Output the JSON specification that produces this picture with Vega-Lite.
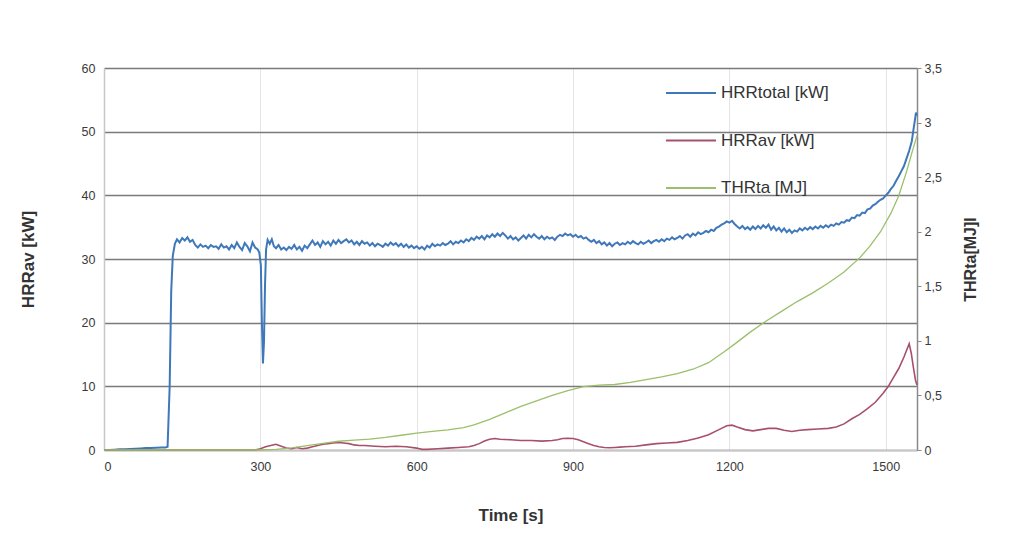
{
  "$schema": "https://vega.github.io/schema/vega-lite/v6.json",
  "width": 813,
  "height": 382,
  "autosize": {"type": "none"},
  "padding": {"left": 104, "top": 68, "right": 100, "bottom": 104},
  "background": "white",
  "config": {
    "font": "Liberation Sans",
    "view": {"stroke": null}
  },
  "datasets": {
    "tot": [
      {"t":0,"v":0.0},{"t":10,"v":0.0},{"t":20,"v":0.05},{"t":30,"v":0.1},{"t":40,"v":0.1},{"t":50,"v":0.15},{"t":60,"v":0.2},{"t":70,"v":0.25},{"t":80,"v":0.3},{"t":90,"v":0.3},{"t":100,"v":0.35},{"t":110,"v":0.4},{"t":118,"v":0.4},{"t":122,"v":0.5},{"t":126,"v":10},{"t":129,"v":25},{"t":132,"v":30.5},{"t":136,"v":32.4},{"t":140,"v":33.1},{"t":145,"v":32.6},{"t":150,"v":33.3},{"t":155,"v":32.9},{"t":160,"v":33.4},{"t":165,"v":32.7},{"t":170,"v":33.0},{"t":175,"v":32.2},{"t":180,"v":31.8},{"t":185,"v":32.3},{"t":190,"v":31.9},{"t":195,"v":32.1},{"t":200,"v":31.7},{"t":205,"v":32.2},{"t":210,"v":31.9},{"t":215,"v":32.0},{"t":220,"v":31.6},{"t":225,"v":32.3},{"t":230,"v":31.8},{"t":235,"v":32.0},{"t":240,"v":31.5},{"t":245,"v":32.2},{"t":250,"v":31.7},{"t":255,"v":32.6},{"t":260,"v":31.9},{"t":265,"v":31.4},{"t":270,"v":32.5},{"t":275,"v":32.0},{"t":280,"v":31.2},{"t":285,"v":32.6},{"t":290,"v":31.8},{"t":295,"v":31.5},{"t":298,"v":31.0},{"t":301,"v":29.0},{"t":303,"v":20},{"t":305,"v":13.6},{"t":307,"v":17},{"t":309,"v":26},{"t":311,"v":31.5},{"t":314,"v":33.0},{"t":318,"v":32.4},{"t":322,"v":33.1},{"t":326,"v":32.0},{"t":330,"v":31.7},{"t":335,"v":32.2},{"t":340,"v":31.5},{"t":345,"v":31.8},{"t":350,"v":31.4},{"t":355,"v":31.9},{"t":360,"v":31.6},{"t":365,"v":32.2},{"t":370,"v":31.5},{"t":375,"v":31.9},{"t":380,"v":31.3},{"t":385,"v":32.1},{"t":390,"v":31.7},{"t":395,"v":32.3},{"t":400,"v":32.9},{"t":405,"v":32.2},{"t":410,"v":32.6},{"t":415,"v":31.9},{"t":420,"v":32.8},{"t":425,"v":32.3},{"t":430,"v":32.7},{"t":435,"v":32.1},{"t":440,"v":32.9},{"t":445,"v":32.4},{"t":450,"v":33.0},{"t":455,"v":32.5},{"t":460,"v":32.8},{"t":465,"v":33.1},{"t":470,"v":32.6},{"t":475,"v":32.9},{"t":480,"v":32.3},{"t":485,"v":32.7},{"t":490,"v":32.2},{"t":495,"v":32.8},{"t":500,"v":32.4},{"t":505,"v":32.6},{"t":510,"v":32.1},{"t":515,"v":32.5},{"t":520,"v":32.0},{"t":525,"v":32.4},{"t":530,"v":32.2},{"t":535,"v":31.9},{"t":540,"v":32.4},{"t":545,"v":32.1},{"t":550,"v":32.6},{"t":555,"v":32.2},{"t":560,"v":32.5},{"t":565,"v":32.0},{"t":570,"v":32.4},{"t":575,"v":31.9},{"t":580,"v":32.3},{"t":585,"v":31.8},{"t":590,"v":32.1},{"t":595,"v":31.7},{"t":600,"v":32.0},{"t":605,"v":31.6},{"t":610,"v":31.9},{"t":615,"v":31.5},{"t":620,"v":32.1},{"t":625,"v":31.8},{"t":630,"v":32.4},{"t":635,"v":32.0},{"t":640,"v":32.3},{"t":645,"v":32.1},{"t":650,"v":32.5},{"t":655,"v":32.2},{"t":660,"v":32.4},{"t":665,"v":32.8},{"t":670,"v":32.3},{"t":675,"v":32.7},{"t":680,"v":32.5},{"t":685,"v":32.9},{"t":690,"v":32.6},{"t":695,"v":33.1},{"t":700,"v":32.8},{"t":705,"v":33.3},{"t":710,"v":33.0},{"t":715,"v":33.5},{"t":720,"v":33.2},{"t":725,"v":33.6},{"t":730,"v":33.1},{"t":735,"v":33.7},{"t":740,"v":33.4},{"t":745,"v":33.9},{"t":750,"v":33.5},{"t":755,"v":34.0},{"t":760,"v":33.6},{"t":765,"v":34.1},{"t":770,"v":33.7},{"t":775,"v":33.2},{"t":780,"v":33.6},{"t":785,"v":33.1},{"t":790,"v":33.4},{"t":795,"v":32.9},{"t":800,"v":33.3},{"t":805,"v":33.7},{"t":810,"v":33.2},{"t":815,"v":33.8},{"t":820,"v":33.4},{"t":825,"v":33.9},{"t":830,"v":33.5},{"t":835,"v":33.2},{"t":840,"v":33.6},{"t":845,"v":33.1},{"t":850,"v":33.5},{"t":855,"v":33.2},{"t":860,"v":33.4},{"t":865,"v":33.0},{"t":870,"v":33.5},{"t":875,"v":33.8},{"t":880,"v":33.6},{"t":885,"v":34.0},{"t":890,"v":33.7},{"t":895,"v":33.9},{"t":900,"v":33.5},{"t":905,"v":33.8},{"t":910,"v":33.4},{"t":915,"v":33.6},{"t":920,"v":33.2},{"t":925,"v":33.4},{"t":930,"v":33.0},{"t":935,"v":32.7},{"t":940,"v":33.0},{"t":945,"v":32.5},{"t":950,"v":32.8},{"t":955,"v":32.3},{"t":960,"v":32.6},{"t":965,"v":32.1},{"t":970,"v":32.5},{"t":975,"v":32.0},{"t":980,"v":32.4},{"t":985,"v":32.6},{"t":990,"v":32.2},{"t":995,"v":32.5},{"t":1000,"v":32.3},{"t":1005,"v":32.7},{"t":1010,"v":32.4},{"t":1015,"v":32.8},{"t":1020,"v":32.5},{"t":1025,"v":32.3},{"t":1030,"v":32.7},{"t":1035,"v":32.4},{"t":1040,"v":32.6},{"t":1045,"v":32.9},{"t":1050,"v":32.5},{"t":1055,"v":32.8},{"t":1060,"v":33.0},{"t":1065,"v":32.7},{"t":1070,"v":33.1},{"t":1075,"v":32.8},{"t":1080,"v":33.2},{"t":1085,"v":33.0},{"t":1090,"v":33.4},{"t":1095,"v":33.1},{"t":1100,"v":33.3},{"t":1105,"v":33.6},{"t":1110,"v":33.2},{"t":1115,"v":33.7},{"t":1120,"v":33.9},{"t":1125,"v":33.5},{"t":1130,"v":34.0},{"t":1135,"v":33.7},{"t":1140,"v":34.2},{"t":1145,"v":33.9},{"t":1150,"v":34.1},{"t":1155,"v":34.4},{"t":1160,"v":34.2},{"t":1165,"v":34.6},{"t":1170,"v":34.4},{"t":1175,"v":34.9},{"t":1180,"v":35.1},{"t":1185,"v":35.4},{"t":1190,"v":35.6},{"t":1195,"v":35.9},{"t":1200,"v":35.7},{"t":1205,"v":36.0},{"t":1210,"v":35.5},{"t":1215,"v":35.1},{"t":1220,"v":34.8},{"t":1225,"v":35.2},{"t":1230,"v":34.7},{"t":1235,"v":35.0},{"t":1240,"v":34.6},{"t":1245,"v":35.1},{"t":1250,"v":34.7},{"t":1255,"v":35.2},{"t":1260,"v":34.8},{"t":1265,"v":35.3},{"t":1270,"v":34.9},{"t":1275,"v":35.4},{"t":1280,"v":34.6},{"t":1285,"v":35.1},{"t":1290,"v":34.5},{"t":1295,"v":34.9},{"t":1300,"v":34.3},{"t":1305,"v":34.8},{"t":1310,"v":34.2},{"t":1315,"v":34.6},{"t":1320,"v":34.1},{"t":1325,"v":34.5},{"t":1330,"v":34.3},{"t":1335,"v":34.8},{"t":1340,"v":34.5},{"t":1345,"v":34.9},{"t":1350,"v":34.6},{"t":1355,"v":35.0},{"t":1360,"v":34.7},{"t":1365,"v":35.1},{"t":1370,"v":34.8},{"t":1375,"v":35.2},{"t":1380,"v":34.9},{"t":1385,"v":35.3},{"t":1390,"v":35.0},{"t":1395,"v":35.4},{"t":1400,"v":35.2},{"t":1405,"v":35.6},{"t":1410,"v":35.4},{"t":1415,"v":35.8},{"t":1420,"v":35.7},{"t":1425,"v":36.1},{"t":1430,"v":36.0},{"t":1435,"v":36.5},{"t":1440,"v":36.4},{"t":1445,"v":36.9},{"t":1450,"v":36.8},{"t":1455,"v":37.3},{"t":1460,"v":37.2},{"t":1465,"v":37.8},{"t":1470,"v":37.9},{"t":1475,"v":38.4},{"t":1480,"v":38.6},{"t":1485,"v":39.0},{"t":1490,"v":39.3},{"t":1495,"v":39.5},{"t":1500,"v":40.0},{"t":1505,"v":40.4},{"t":1510,"v":41.0},{"t":1515,"v":41.5},{"t":1520,"v":42.3},{"t":1525,"v":43.0},{"t":1530,"v":43.8},{"t":1535,"v":44.6},{"t":1540,"v":45.8},{"t":1545,"v":47.0},{"t":1550,"v":48.5},{"t":1553,"v":50.2},{"t":1556,"v":51.8},{"t":1558,"v":53.0},{"t":1560,"v":52.5}
    ],
    "av": [
      {"t":0,"v":0},{"t":100,"v":0},{"t":200,"v":0},{"t":290,"v":0},{"t":300,"v":0.2},{"t":310,"v":0.5},{"t":320,"v":0.7},{"t":330,"v":0.9},{"t":340,"v":0.6},{"t":350,"v":0.3},{"t":360,"v":0.2},{"t":370,"v":0.4},{"t":380,"v":0.2},{"t":390,"v":0.3},{"t":400,"v":0.5},{"t":410,"v":0.7},{"t":420,"v":0.9},{"t":430,"v":1.0},{"t":440,"v":1.1},{"t":450,"v":1.2},{"t":460,"v":1.1},{"t":470,"v":1.0},{"t":480,"v":0.8},{"t":490,"v":0.7},{"t":500,"v":0.7},{"t":520,"v":0.6},{"t":540,"v":0.5},{"t":560,"v":0.6},{"t":580,"v":0.5},{"t":600,"v":0.3},{"t":610,"v":0.1},{"t":620,"v":0.1},{"t":640,"v":0.2},{"t":660,"v":0.3},{"t":680,"v":0.4},{"t":700,"v":0.5},{"t":710,"v":0.7},{"t":720,"v":1.0},{"t":730,"v":1.4},{"t":740,"v":1.7},{"t":750,"v":1.8},{"t":760,"v":1.7},{"t":780,"v":1.6},{"t":800,"v":1.5},{"t":820,"v":1.5},{"t":840,"v":1.4},{"t":860,"v":1.5},{"t":870,"v":1.6},{"t":880,"v":1.8},{"t":890,"v":1.85},{"t":900,"v":1.8},{"t":910,"v":1.6},{"t":920,"v":1.3},{"t":930,"v":1.0},{"t":940,"v":0.7},{"t":950,"v":0.5},{"t":960,"v":0.4},{"t":970,"v":0.35},{"t":980,"v":0.4},{"t":990,"v":0.45},{"t":1000,"v":0.5},{"t":1020,"v":0.6},{"t":1040,"v":0.8},{"t":1060,"v":1.0},{"t":1080,"v":1.1},{"t":1100,"v":1.2},{"t":1120,"v":1.5},{"t":1140,"v":1.9},{"t":1160,"v":2.4},{"t":1180,"v":3.2},{"t":1195,"v":3.8},{"t":1205,"v":3.9},{"t":1215,"v":3.6},{"t":1230,"v":3.2},{"t":1245,"v":3.0},{"t":1260,"v":3.2},{"t":1275,"v":3.4},{"t":1290,"v":3.4},{"t":1305,"v":3.1},{"t":1320,"v":2.9},{"t":1335,"v":3.1},{"t":1350,"v":3.2},{"t":1370,"v":3.3},{"t":1390,"v":3.4},{"t":1405,"v":3.6},{"t":1420,"v":4.1},{"t":1435,"v":4.9},{"t":1450,"v":5.6},{"t":1465,"v":6.5},{"t":1480,"v":7.5},{"t":1495,"v":8.9},{"t":1505,"v":10.0},{"t":1515,"v":11.4},{"t":1525,"v":12.8},{"t":1535,"v":14.6},{"t":1545,"v":16.7},{"t":1549,"v":15.2},{"t":1553,"v":13.0},{"t":1557,"v":11.0},{"t":1560,"v":10.2}
    ],
    "thr": [
      {"t":0,"v":0},{"t":100,"v":0},{"t":200,"v":0},{"t":300,"v":0},{"t":330,"v":0.005},{"t":360,"v":0.02},{"t":390,"v":0.04},{"t":420,"v":0.06},{"t":450,"v":0.08},{"t":480,"v":0.09},{"t":510,"v":0.1},{"t":540,"v":0.115},{"t":570,"v":0.135},{"t":600,"v":0.155},{"t":630,"v":0.17},{"t":660,"v":0.185},{"t":690,"v":0.205},{"t":710,"v":0.23},{"t":740,"v":0.28},{"t":770,"v":0.34},{"t":800,"v":0.4},{"t":830,"v":0.45},{"t":860,"v":0.5},{"t":890,"v":0.545},{"t":920,"v":0.58},{"t":950,"v":0.595},{"t":980,"v":0.6},{"t":1010,"v":0.62},{"t":1040,"v":0.645},{"t":1070,"v":0.67},{"t":1100,"v":0.7},{"t":1130,"v":0.74},{"t":1160,"v":0.8},{"t":1190,"v":0.9},{"t":1210,"v":0.97},{"t":1240,"v":1.08},{"t":1270,"v":1.18},{"t":1300,"v":1.27},{"t":1330,"v":1.36},{"t":1360,"v":1.44},{"t":1390,"v":1.53},{"t":1420,"v":1.63},{"t":1450,"v":1.76},{"t":1470,"v":1.87},{"t":1490,"v":2.0},{"t":1510,"v":2.17},{"t":1525,"v":2.33},{"t":1540,"v":2.55},{"t":1550,"v":2.72},{"t":1560,"v":2.88}
    ]
  },
  "layer": [
    {
      "layer": [
        {
          "data": {"name": "tot"},
          "mark": {"type": "line", "strokeWidth": 2},
          "encoding": {
            "x": {
              "field": "t", "type": "quantitative",
              "scale": {"domain": [0, 1560], "nice": false, "zero": false},
              "axis": {
                "values": [0, 300, 600, 900, 1200, 1500],
                "format": "d",
                "grid": true, "gridColor": "#e4e4e4", "gridWidth": 1,
                "domainColor": "#c8c8c8", "domainWidth": 1.5,
                "ticks": false, "tickSize": 0,
                "labelPadding": 10, "labelFontSize": 12.5, "labelColor": "#3a3a3a",
                "title": "Time [s]", "titleFontSize": 17, "titleFontWeight": "bold", "titleColor": "#333",
                "titleBaseline": "middle", "titleY": 65
              }
            },
            "y": {
              "field": "v", "type": "quantitative",
              "scale": {"domain": [0, 60], "nice": false},
              "axis": {
                "values": [0, 10, 20, 30, 40, 50, 60],
                "grid": true, "gridColor": "#7a7a7a", "gridWidth": 1.3,
                "domainColor": "#c8c8c8", "domainWidth": 1.5,
                "ticks": false, "tickSize": 0,
                "labelPadding": 9, "labelFontSize": 12.5, "labelColor": "#3a3a3a",
                "title": "HRRav [kW]", "titleFontSize": 17, "titleFontWeight": "bold", "titleColor": "#333",
                "titleAngle": 270, "titleBaseline": "middle", "titleAlign": "center",
                "titleX": -76, "titleY": 191
              }
            },
            "color": {
              "datum": "HRRtotal [kW]",
              "type": "nominal",
              "scale": {
                "domain": ["HRRtotal [kW]", "HRRav [kW]", "THRta [MJ]"],
                "range": ["#3f78ba", "#a8506a", "#9bbf6a"]
              },
              "legend": {
                "orient": "none", "legendX": 561, "legendY": -1,
                "title": null, "symbolType": "stroke", "symbolSize": 2500,
                "symbolStrokeWidth": 2, "labelFontSize": 17, "labelColor": "#333",
                "labelOffset": 4, "rowPadding": 13.5, "padding": 0
              }
            }
          }
        },
        {
          "data": {"name": "av"},
          "mark": {"type": "line", "strokeWidth": 1.6},
          "encoding": {
            "x": {"field": "t", "type": "quantitative"},
            "y": {"field": "v", "type": "quantitative"},
            "color": {"datum": "HRRav [kW]", "type": "nominal"}
          }
        }
      ]
    },
    {
      "data": {"name": "thr"},
      "mark": {"type": "line", "strokeWidth": 1.3},
      "encoding": {
        "x": {"field": "t", "type": "quantitative"},
        "y": {
          "field": "v", "type": "quantitative",
          "scale": {"domain": [0, 3.5], "nice": false},
          "axis": {
            "orient": "right",
            "values": [0, 0.5, 1, 1.5, 2, 2.5, 3, 3.5],
            "labelExpr": "replace(toString(datum.value), '.', ',')",
            "grid": false,
            "domainColor": "#8a8a8a", "domainWidth": 1.5,
            "tickColor": "#8a8a8a", "tickSize": 4,
            "labelPadding": 3, "labelFontSize": 12.5, "labelColor": "#3a3a3a",
            "title": "THRta[MJ]l", "titleFontSize": 16, "titleFontWeight": "bold", "titleColor": "#333",
            "titleAngle": 270, "titleBaseline": "middle", "titleAlign": "center",
            "titleX": 53, "titleY": 191
          }
        },
        "color": {"datum": "THRta [MJ]", "type": "nominal"}
      }
    }
  ],
  "resolve": {"scale": {"y": "independent"}}
}
